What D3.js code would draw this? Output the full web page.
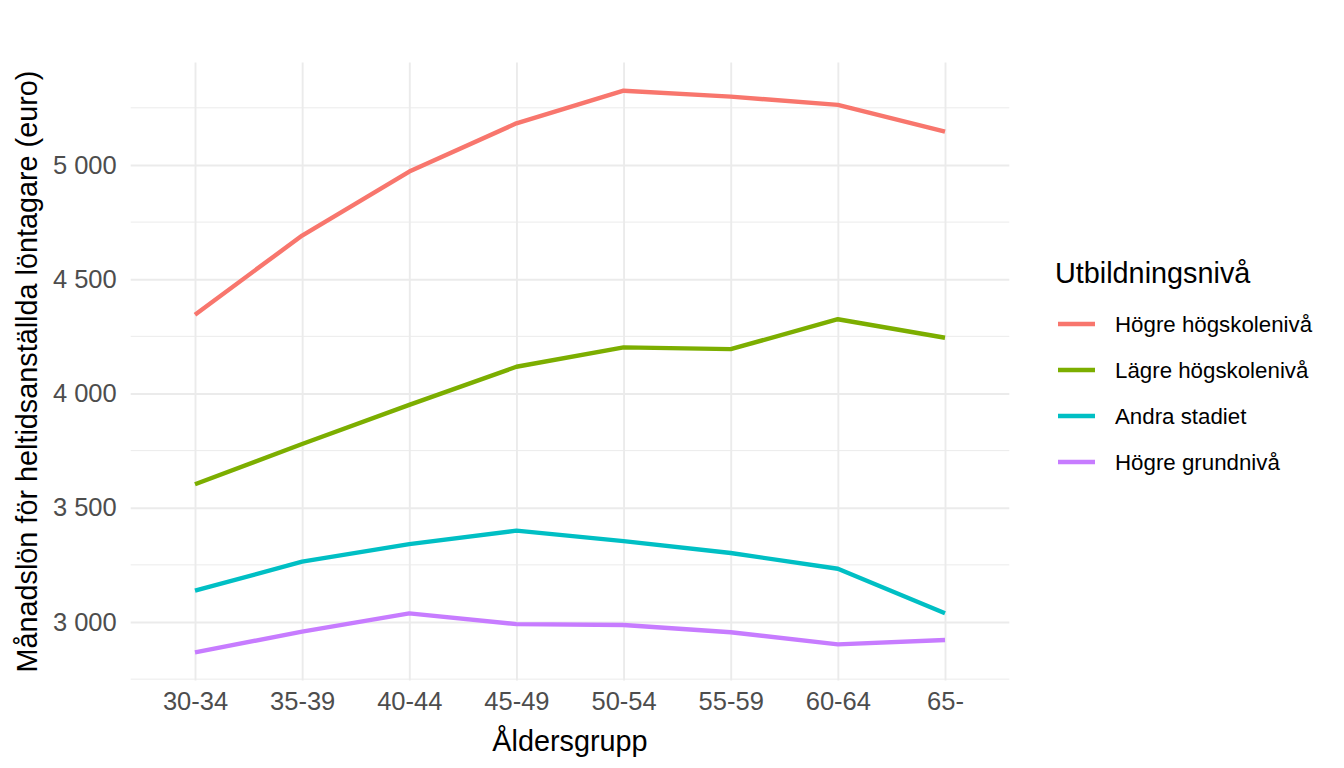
<!DOCTYPE html>
<html>
<head>
<meta charset="utf-8">
<style>
    body { margin: 0; background: #fff; }
    text { font-family: "Liberation Sans", Arial, sans-serif; }
    .tick text { fill: #4d4d4d; font-size: 25.5px; }
    .legend text { fill: #000; font-size: 22.3px; }
    .title, .legend .title { fill: #000; font-size: 28.8px; }
</style>
<script src="https://d3js.org/d3.v7.min.js"></script>
<script>
    // values (euro per month)
    var ageGroups = ["30-34", "35-39", "40-44", "45-49", "50-54", "55-59", "60-64", "65-"];
    var levels = ["Högre högskolenivå", "Lägre högskolenivå", "Andra stadiet", "Högre grundnivå"];
    var hogreHogskola = [4345, 4691, 4971, 5182, 5325, 5299, 5263, 5146];
    var lagreHogskola = [3603, 3779, 3950, 4117, 4202, 4194, 4325, 4244];
    var andraStadiet  = [3137, 3264, 3341, 3400, 3354, 3302, 3233, 3038];
    var hogreGrund    = [2867, 2958, 3038, 2991, 2987, 2955, 2902, 2921];
    var yTicks = [3000, 3500, 4000, 4500, 5000];

    var colors = ["#F8766D", "#7CAE00", "#00BFC4", "#C77CFF"];

    function lineChart() {
        var svg = d3.select("svg");
        var panel = { left: 130.7, right: 1009.3, top: 62.6, bottom: 680.5 };

        var series = [hogreHogskola, lagreHogskola, andraStadiet, hogreGrund];
        var all = d3.merge(series);
        var ext = d3.extent(all);
        var pad = (ext[1] - ext[0]) * 0.05;

        var x = d3.scalePoint()
            .domain(ageGroups)
            .range([panel.left, panel.right])
            .padding(0.6);

        var y = d3.scaleLinear()
            .domain([ext[0] - pad, ext[1] + pad])
            .range([panel.bottom, panel.top]);

        var fmt = d3.formatLocale({ decimal: ",", thousands: "\u00a0", grouping: [3], currency: ["", ""] }).format(",d");

        // minor grid: midway between the major breaks
        var minor = [];
        for (var i = 0; i <= yTicks.length; i++) {
            var prev = i === 0 ? yTicks[0] - (yTicks[1] - yTicks[0]) : yTicks[i - 1];
            var next = i === yTicks.length ? yTicks[i - 1] + (yTicks[1] - yTicks[0]) : yTicks[i];
            minor.push((prev + next) / 2);
        }

        svg.append("g").selectAll("line")
            .data(minor)
            .enter().append("line")
            .attr("x1", panel.left).attr("x2", panel.right)
            .attr("y1", function (d) { return y(d); })
            .attr("y2", function (d) { return y(d); })
            .attr("stroke", "#ebebeb").attr("stroke-width", 1);

        // major grid + labels through axes
        var yAxis = svg.append("g")
            .attr("transform", "translate(" + panel.left + ",0)")
            .call(d3.axisLeft(y).tickValues(yTicks).tickFormat(fmt)
                .tickSize(-(panel.right - panel.left)).tickPadding(14));
        yAxis.select(".domain").remove();
        yAxis.selectAll(".tick line").attr("stroke", "#ebebeb").attr("stroke-width", 1.9);

        var xAxis = svg.append("g")
            .attr("transform", "translate(0," + panel.bottom + ")")
            .call(d3.axisBottom(x).tickSize(-(panel.bottom - panel.top)).tickPadding(11));
        xAxis.select(".domain").remove();
        xAxis.selectAll(".tick line").attr("stroke", "#ebebeb").attr("stroke-width", 1.9);
        xAxis.selectAll(".tick text").attr("dy", "0.71em");

        var line = d3.line()
            .x(function (d, i) { return x(ageGroups[i]); })
            .y(function (d) { return y(d); });

        svg.append("g").selectAll("path")
            .data(series)
            .enter().append("path")
            .attr("d", line)
            .attr("fill", "none")
            .attr("stroke", function (d, i) { return colors[i]; })
            .attr("stroke-width", 4.4)
            .attr("stroke-linejoin", "round");

        // axis titles
        svg.append("text")
            .attr("class", "title")
            .attr("x", (panel.left + panel.right) / 2)
            .attr("y", 751)
            .attr("text-anchor", "middle")
            .text("Åldersgrupp");

        svg.append("text")
            .attr("class", "title")
            .attr("transform", "translate(37," + (panel.top + panel.bottom) / 2 + ") rotate(-90)")
            .attr("text-anchor", "middle")
            .text("Månadslön för heltidsanställda löntagare (euro)");

        // legend
        var legend = svg.append("g").attr("class", "legend");
        legend.append("text")
            .attr("class", "title")
            .attr("x", 1055)
            .attr("y", 283)
            .text("Utbildningsnivå");

        var items = legend.selectAll(".item")
            .data(levels)
            .enter().append("g")
            .attr("class", "item")
            .attr("transform", function (d, i) { return "translate(1058," + (324 + i * 46) + ")"; });
        items.append("line")
            .attr("x1", 0).attr("x2", 37)
            .attr("stroke", function (d, i) { return colors[i]; })
            .attr("stroke-width", 4.4);
        items.append("text")
            .attr("x", 57)
            .attr("dy", "0.36em")
            .text(function (d) { return d; });
    }
</script>
</head>
<body onload="lineChart()">
    <svg width="1344" height="768"></svg>
</body>
</html>
